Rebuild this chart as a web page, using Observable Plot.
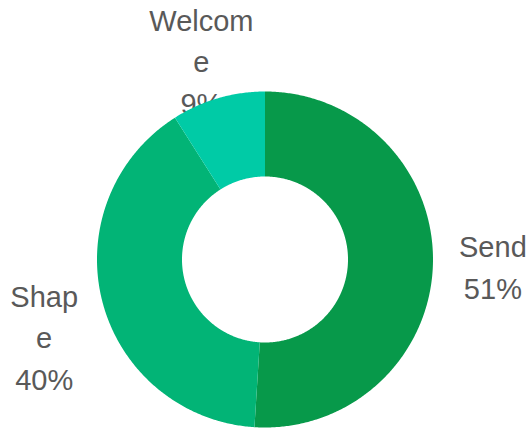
<!DOCTYPE html>
<html>
<head>
<meta charset="utf-8">
<script src="https://cdn.jsdelivr.net/npm/d3@7"></script>
<script src="https://cdn.jsdelivr.net/npm/@observablehq/plot@0.6"></script>
<style>
  html, body { margin: 0; padding: 0; background: #fff; }
  #chart svg { display: block; }
</style>
</head>
<body>
<div id="chart"></div>
<script>
// Data
const categories = ["Send", "Shape", "Welcome"];
const values = [51, 40, 9];
const labelNames = ["Send", "Shap\ne", "Welcom\ne"]; // wrapped as in the reference
const colors = ["#07994a", "#02b476", "#00cba6"];

// Layout
const W = 527, H = 430;
const cx = 264.5, cy = 259;
const outerR = 168, innerR = 83, labelR = 228;

const total = d3.sum(values);
const pie = d3.pie().sort(null).value(d => d.value);
const arcs = pie(categories.map((name, i) => ({name, value: values[i], label: labelNames[i]})));

// Polygon outline of each donut slice in data space (y up), angle 0 at top, clockwise
const pts = [];
for (const a of arcs) {
  const n = Math.max(2, Math.ceil((a.endAngle - a.startAngle) / (Math.PI / 360)));
  for (let k = 0; k <= n; k++) {
    const t = a.startAngle + (a.endAngle - a.startAngle) * k / n;
    pts.push({name: a.data.name, x: outerR * Math.sin(t), y: outerR * Math.cos(t)});
  }
  for (let k = n; k >= 0; k--) {
    const t = a.startAngle + (a.endAngle - a.startAngle) * k / n;
    pts.push({name: a.data.name, x: innerR * Math.sin(t), y: innerR * Math.cos(t)});
  }
}

const labels = arcs.map(a => {
  const m = (a.startAngle + a.endAngle) / 2;
  return {
    name: a.data.name,
    text: a.data.label + "\n" + Math.round(a.data.value / total * 100) + "%",
    x: labelR * Math.sin(m),
    y: labelR * Math.cos(m)
  };
});

const chart = Plot.plot({
  width: W,
  height: H,
  margin: 0,
  x: {domain: [-cx, W - cx], range: [0, W], axis: null},
  y: {domain: [cy - H, cy], range: [H, 0], axis: null},
  color: {domain: categories, range: colors},
  style: {fontFamily: "'Liberation Sans', Arial, sans-serif", background: "#fff"},
  marks: [
    Plot.text(labels, {
      x: "x", y: "y", text: "text",
      fill: "#595959",
      fontSize: 29,
      lineHeight: 1.43,
      lineAnchor: "top",
      textAnchor: "middle",
      dy: -39
    }),
    Plot.line(pts, {x: "x", y: "y", z: "name", fill: "name", stroke: null, curve: "linear-closed"})
  ]
});

document.getElementById("chart").appendChild(chart);
</script>
</body>
</html>
